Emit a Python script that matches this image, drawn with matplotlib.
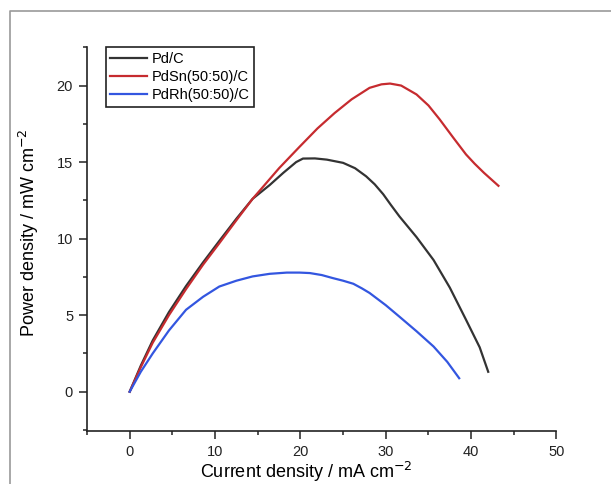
import matplotlib
matplotlib.use("Agg")
import matplotlib.pyplot as plt
from matplotlib.lines import Line2D
from matplotlib.ticker import MultipleLocator

plt.rcParams['font.family'] = ['Liberation Sans', 'DejaVu Sans']

# data
pdc_x = [0, 1.3, 2.7, 4.6, 6.6, 8.6, 10.5, 12.5, 14.4, 16.4, 18.0, 19.5, 20.3,
         21.7, 23.1, 25.0, 26.4, 27.7, 28.7, 29.7, 30.6, 31.6, 33.6, 35.6,
         37.5, 39.4, 41.0, 42.0]
pdc_y = [0, 1.7, 3.35, 5.2, 6.9, 8.45, 9.85, 11.3, 12.6, 13.5, 14.3, 15.0,
         15.23, 15.24, 15.16, 14.95, 14.6, 14.07, 13.55, 12.9, 12.2, 11.45,
         10.1, 8.6, 6.8, 4.7, 2.9, 1.3]

pdsn_x = [0, 1.3, 2.7, 4.6, 6.6, 8.6, 10.5, 12.5, 14.4, 15.8, 17.5, 19.9, 22.0,
          24.0, 26.0, 28.1, 29.5, 30.5, 31.8, 33.6, 35.0, 36.3, 37.9, 39.4,
          40.4, 41.5, 43.2]
pdsn_y = [0, 1.6, 3.2, 5.0, 6.7, 8.3, 9.7, 11.2, 12.6, 13.5, 14.6, 16.0, 17.2,
          18.2, 19.1, 19.85, 20.08, 20.13, 20.0, 19.42, 18.7, 17.8, 16.6, 15.5,
          14.9, 14.3, 13.45]

pdrh_x = [0, 1.3, 2.7, 4.6, 6.6, 8.6, 10.5, 12.5, 14.4, 16.4, 18.4, 19.9, 21.1,
          22.5, 23.8, 25.0, 26.2, 27.2, 28.1, 30.0, 31.6, 33.6, 35.6, 37.2,
          38.6]
pdrh_y = [0, 1.3, 2.5, 4.0, 5.35, 6.2, 6.87, 7.25, 7.53, 7.7, 7.78, 7.78, 7.75,
          7.62, 7.42, 7.25, 7.05, 6.75, 6.45, 5.65, 4.9, 3.95, 2.95, 1.95, 0.88]

labels = ['Pd/C', 'PdSn(50:50)/C', 'PdRh(50:50)/C']
colors = ['#333333', '#c62b2f', '#3356e0']

fig = plt.figure(figsize=(6.11, 4.84), dpi=100)
ax = fig.add_axes([0.1424, 0.1101, 0.7684, 0.7922])

ax.plot(pdc_x, pdc_y, color=colors[0], lw=1.6, label=labels[0])
ax.plot(pdsn_x, pdsn_y, color=colors[1], lw=1.6, label=labels[1])
ax.plot(pdrh_x, pdrh_y, color=colors[2], lw=1.6, label=labels[2])

ax.set_xlim(-5, 50)
ax.set_ylim(-2.55, 22.5)
ax.xaxis.set_major_locator(MultipleLocator(10))
ax.xaxis.set_minor_locator(MultipleLocator(5))
ax.yaxis.set_major_locator(MultipleLocator(5))
ax.yaxis.set_minor_locator(MultipleLocator(2.5))

for s in ['top', 'right']:
    ax.spines[s].set_visible(False)
for s in ['left', 'bottom']:
    ax.spines[s].set_linewidth(1.2)
    ax.spines[s].set_color('#222222')

ax.tick_params(which='major', direction='out', length=6, width=1.1,
               labelsize=10.5, colors='#222222', pad=4)
ax.tick_params(which='minor', direction='out', length=3, width=1.1,
               colors='#222222')

ax.set_xlabel('Current density / mA cm$^{-2}$', fontsize=13, va='center')
ax.set_ylabel('Power density / mW cm$^{-2}$', fontsize=13, va='center')
ax.xaxis.set_label_coords(0.466, -0.108)
ax.yaxis.set_label_coords(-0.124, 0.516)

leg = ax.legend(loc='upper left', bbox_to_anchor=(0.0405, 1.0),
                borderaxespad=0, fontsize=10.5, handlelength=2.5,
                handletextpad=0.35, labelspacing=0.3, borderpad=0.3,
                fancybox=False, framealpha=1)
leg.get_frame().set_edgecolor('#222222')
leg.get_frame().set_linewidth(1.2)

# grey frame around the picture (top and left edges)
fx = 10 / 611
fy = 1 - 11 / 484
fig.add_artist(Line2D([fx, fx, 1], [0, fy, fy], transform=fig.transFigure,
                      color='#9a9a9a', lw=1.2))

fig.savefig('out.png', dpi=100)
